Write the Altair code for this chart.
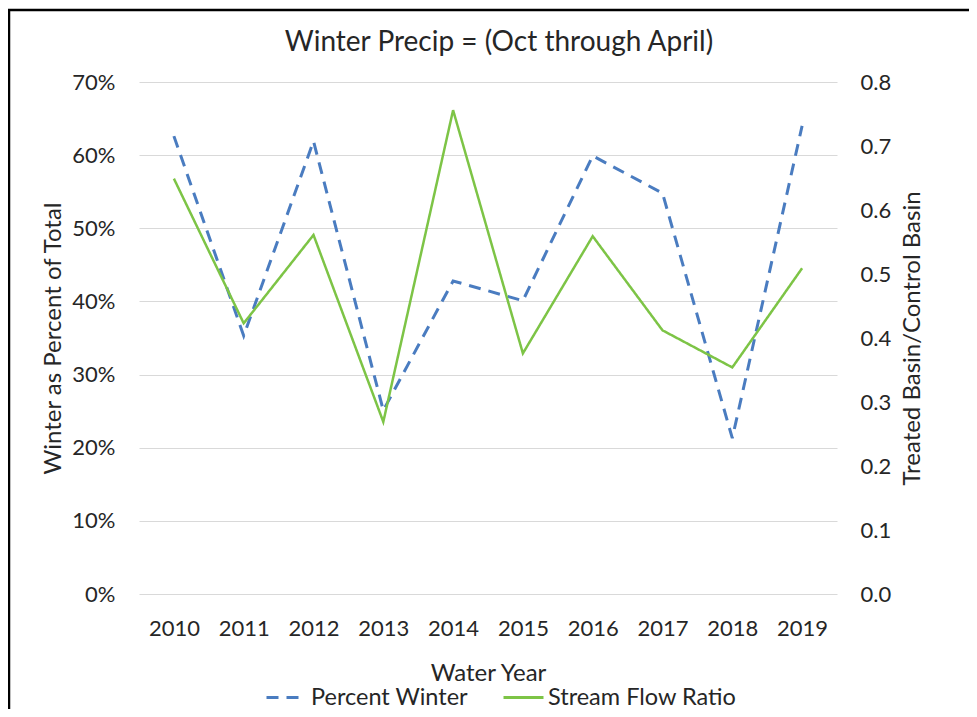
import altair as alt
import pandas as pd

years = ["2010", "2011", "2012", "2013", "2014", "2015", "2016", "2017", "2018", "2019"]
percent_winter = [0.626, 0.353, 0.619, 0.251, 0.428, 0.401, 0.599, 0.548, 0.213, 0.640]
stream_flow_ratio = [0.649, 0.423, 0.561, 0.269, 0.756, 0.376, 0.559, 0.412, 0.354, 0.509]
series_names = ["Percent Winter", "Stream Flow Ratio"]
series_colors = ["#4A7CC0", "#7DC446"]
left_ticks = [0, 0.1, 0.2, 0.3, 0.4, 0.5, 0.6, 0.7]
right_ticks = [0, 0.1, 0.2, 0.3, 0.4, 0.5, 0.6, 0.7, 0.8]
title_text = "Winter Precip = (Oct through April)"

FONT = "Lato"
TXT = "#262626"

df_pw = pd.DataFrame({"year": years, "value": percent_winter, "series": series_names[0]})
df_sf = pd.DataFrame({"year": years, "value": stream_flow_ratio, "series": series_names[1]})
df_one = pd.DataFrame({"label": [title_text]})

x_enc = alt.X(
    "year:O",
    sort=years,
    scale=alt.Scale(paddingOuter=0.5),
    axis=alt.Axis(
        title="Water Year", labelAngle=0, ticks=False, tickSize=0, domain=False,
        labelPadding=24, titleBaseline="middle", titleY=79, titleFontWeight="normal",
        grid=False,
    ),
)

color_enc = alt.Color(
    "series:N",
    scale=alt.Scale(domain=series_names, range=series_colors),
    legend=alt.Legend(
        title=None, orient="none", direction="horizontal", legendX=126, legendY=594,
        symbolType="stroke", symbolSize=1600, symbolStrokeWidth=3, labelOffset=3,
        columnPadding=29, padding=0, labelFontSize=23.5, labelFont=FONT, labelColor=TXT,
        labelLimit=400,
    ),
)
dash_enc = alt.StrokeDash(
    "series:N",
    scale=alt.Scale(domain=series_names, range=[[12, 8], [1, 0]]),
    legend=None,
)

pw = alt.Chart(df_pw).mark_line(strokeWidth=3, strokeCap="butt").encode(
    x=x_enc,
    y=alt.Y(
        "value:Q",
        scale=alt.Scale(domain=[0, 0.7], nice=False),
        axis=alt.Axis(
            title="Winter as Percent of Total", values=left_ticks, format=".0%",
            ticks=False, tickSize=0, domain=False, labelPadding=24,
            gridColor="#D9D9D9", gridWidth=1,
            titleX=-86, titleY=256, titleBaseline="middle", titleAngle=270,
            titleFontWeight="normal",
        ),
    ),
    color=color_enc,
    strokeDash=dash_enc,
)

sf = alt.Chart(df_sf).mark_line(strokeWidth=2.5).encode(
    x=x_enc,
    y=alt.Y(
        "value:Q",
        scale=alt.Scale(domain=[0, 0.8], nice=False),
        axis=alt.Axis(
            title="Treated Basin/Control Basin", orient="right", values=right_ticks,
            format=".1f", ticks=False, tickSize=0, domain=False, labelPadding=23,
            grid=False, titleX=75, titleY=256, titleBaseline="middle", titleAngle=270,
            titleFontWeight="normal",
        ),
    ),
    color=color_enc,
    strokeDash=dash_enc,
)

title_mark = alt.Chart(df_one).mark_text(
    font=FONT, fontSize=28, fontWeight="normal", color=TXT, align="center",
    baseline="alphabetic"
).encode(
    x=alt.value(360), y=alt.value(-31), text="label:N"
)

frame_left = alt.Chart(df_one).mark_rule(color="#000000", strokeWidth=2.5).encode(
    x=alt.value(-130), y=alt.value(-73), y2=alt.value(630)
)
frame_top = alt.Chart(df_one).mark_rule(color="#000000", strokeWidth=2.5).encode(
    x=alt.value(-131), x2=alt.value(830), y=alt.value(-72)
)

chart = (
    alt.layer(pw, sf, title_mark, frame_left, frame_top)
    .resolve_scale(y="independent")
    .properties(
        width=698,
        height=512,
        autosize=alt.AutoSizeParams(type="none"),
        padding={"left": 131, "top": 74, "right": 132, "bottom": 115},
        background="white",
    )
    .configure_view(stroke=None)
    .configure_axis(
        labelFont=FONT, labelFontSize=22, labelColor=TXT,
        titleFont=FONT, titleFontSize=24, titleColor=TXT,
    )
)

chart.save("out.html", embed_options={"renderer": "svg", "actions": False})
